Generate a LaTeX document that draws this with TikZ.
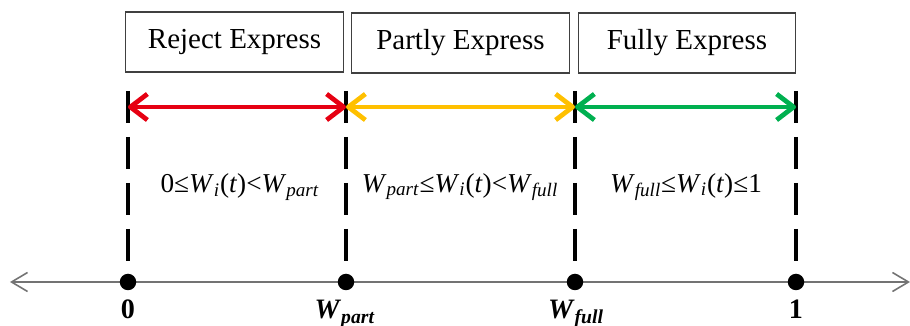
\documentclass[tikz,border=0pt]{standalone}
\usepackage{fontspec}
\setmainfont{Liberation Serif}
\usetikzlibrary{positioning,arrows.meta}
\definecolor{rejred}{RGB}{230,0,18}
\definecolor{partyel}{RGB}{255,192,0}
\definecolor{fullgrn}{RGB}{0,176,80}
\newcommand{\Wsub}[1]{\textit{W}\textsubscript{\textit{#1}}}

\begin{document}
\begin{tikzpicture}[font=\fontsize{16.5}{19}\selectfont,
    box/.style={draw=black!75,line width=0.6pt,minimum width=4.35cm,minimum height=1.2cm},
    bar/.style={line width=2.3pt,dash pattern=on 0.64cm off 0.28cm},
    span/.style={line width=2.7pt,line cap=round,
      {Straight Barb[length=3.4mm,width=5.2mm,line join=round]}-{Straight Barb[length=3.4mm,width=5.2mm,line join=round]}},
    pt/.style={circle,fill,inner sep=0pt,minimum size=0.33cm},
    cond/.style={font=\fontsize{15.5}{18}\selectfont},
    val/.style={anchor=base,font=\bfseries\fontsize{16}{19}\selectfont}]
  \useasboundingbox (0,0) rectangle (18.2,6.52);
  % thresholds 0, W_part, W_full, 1
  \foreach \x [count=\i from 0] in {2.56,6.92,11.50,15.92} {
    \coordinate (a\i) at (\x,4.70);
    \coordinate (b\i) at (\x,1.30);
    \coordinate (m\i) at (\x,4.38);
    \coordinate (t\i) at (\x,0.88);
  }
  \coordinate (l) at (0.2,0.88);
  \coordinate (r) at (18.2,0.88);
  \draw[black!55,line width=0.9pt,{Straight Barb[length=3.2mm,width=3.8mm]}-{Straight Barb[length=3.2mm,width=3.8mm]}] (l) -- (r);
  \foreach \i in {0,...,3} {
    \draw[bar] (a\i) -- (b\i);
    \node[pt] (d\i) at (t\i) {};
  }

  % ranges
  \draw[span,rejred] (m0) -- (m1);
  \draw[span,partyel] (m1) -- (m2);
  \draw[span,fullgrn] (m2) -- (m3);

  \node[box] (rej) at (4.69,5.68) {Reject Express};
  \node[box] (part) at (9.21,5.66) {Partly Express};
  \node[box] (full) at (13.74,5.66) {Fully Express};

  \node[cond] (f1) at (4.80,2.78) {0≤\Wsub{i}(\textit{t})<\Wsub{part}};
  \node[cond] (f2) at (9.20,2.78) {\Wsub{part}≤\Wsub{i}(\textit{t})<\Wsub{full}};
  \node[cond] (f3) at (13.72,2.78) {\Wsub{full}≤\Wsub{i}(\textit{t})≤1};

  \node[val] (v0) at (2.56,0.14) {0};
  \node[val] (v1) at (6.90,0.14) {\Wsub{part}};
  \node[val] (v2) at (11.52,0.14) {\Wsub{full}};
  \node[val] (v3) at (15.92,0.14) {1};
\end{tikzpicture}
\end{document}
